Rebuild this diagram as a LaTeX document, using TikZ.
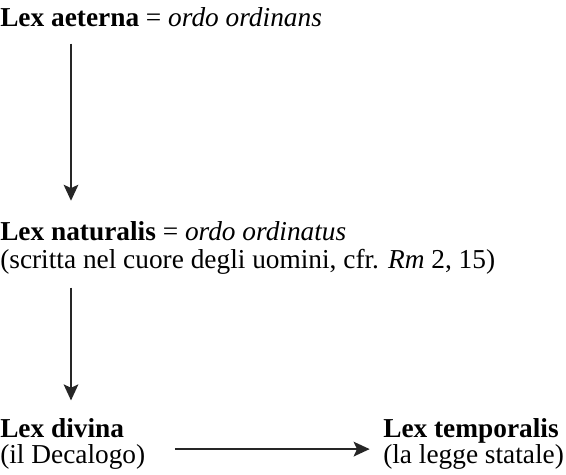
\documentclass[tikz,border=0pt]{standalone}
\usepackage{fontspec}
\setmainfont{Liberation Serif}
\usetikzlibrary{arrows.meta}

\begin{document}
\begin{tikzpicture}[
    x=0.75pt, y=-0.75pt,
    lex/.style={inner sep=0pt, anchor=base west, font=\fontsize{20.5}{21}\selectfont},
    arrow/.style={-{Stealth[length=12pt, width=11pt, inset=2.5pt]}, line width=1.5pt, color=black!85}
]
\useasboundingbox (0,0) rectangle (566,474);

% --- Lex aeterna ---
\node[lex] (aeterna) at (0,27) {\textbf{Lex aeterna} = \textit{ordo ordinans}};

% --- Lex naturalis ---
\node[lex] (naturalis) at (0,240) {\textbf{Lex naturalis} = \textit{ordo ordinatus}};
\node[lex] (naturalis-note) at (0,268) {(scritta nel cuore degli uomini, cfr. \textit{Rm} 2, 15)};

% --- Lex divina / Lex temporalis ---
\node[lex] (divina) at (0,437) {\textbf{Lex divina}};
\node[lex] (decalogo) at (0,463) {(il Decalogo)};
\node[lex] (temporalis) at (383,437) {\textbf{Lex temporalis}};
\node[lex] (statale) at (383,463) {(la legge statale)};

% --- Arrows ---
\coordinate (col) at (71,0);
\draw[arrow] ([yshift=-12pt]aeterna.south -| col) -- ([yshift=15pt]naturalis.north -| col);
\draw[arrow] ([yshift=-10pt]naturalis-note.south -| col) -- ([yshift=13pt]divina.north -| col);
\draw[arrow] ([xshift=22pt, yshift=-4pt]decalogo.north east) -- ([xshift=-10pt, yshift=-4pt]decalogo.north east -| statale.west);

\end{tikzpicture}
\end{document}
